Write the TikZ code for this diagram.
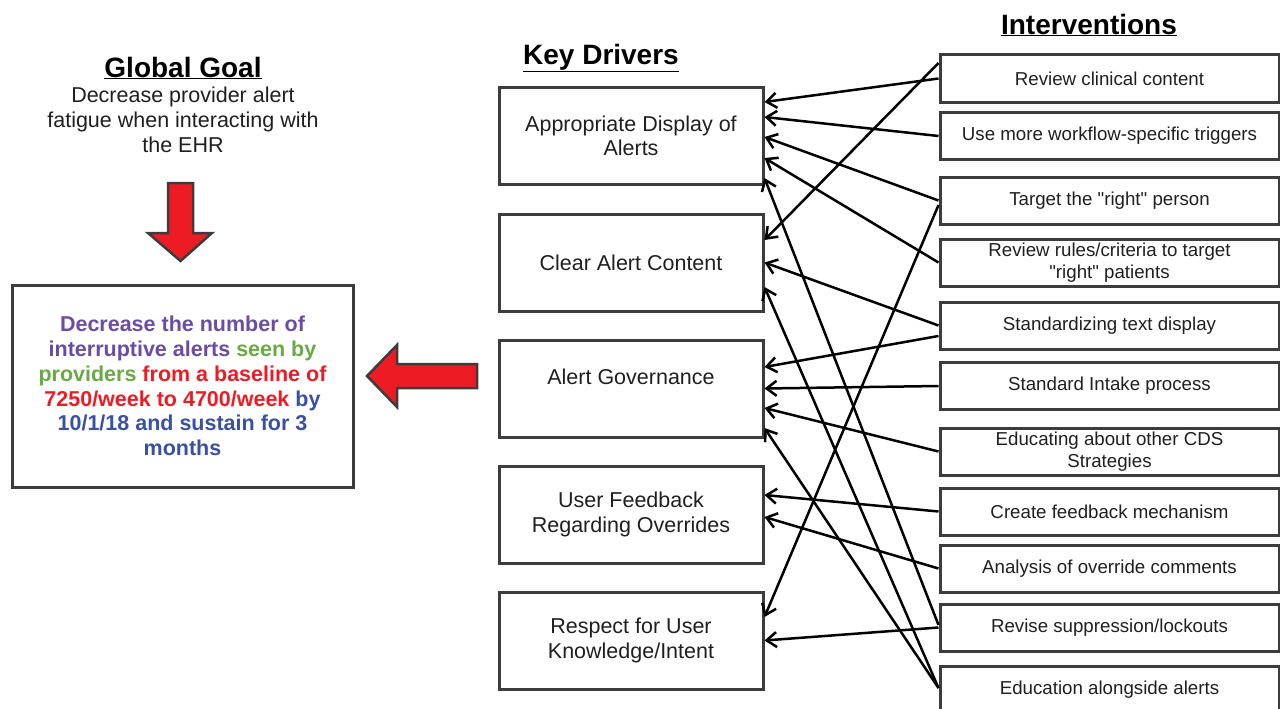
\documentclass[tikz,border=0pt]{standalone}
\usepackage{fontspec}
\setmainfont{Liberation Sans}
\newfontfamily\plainfont{Liberation Sans}
\newcommand{\dq}{{\plainfont\symbol{34}}}
\usetikzlibrary{arrows.meta}

\definecolor{goalpurple}{RGB}{107,76,165}
\definecolor{goalgreen}{RGB}{104,170,68}
\definecolor{goalred}{RGB}{237,28,36}
\definecolor{goalblue}{RGB}{58,80,165}
\definecolor{boxgray}{RGB}{60,60,60}

\begin{document}
\begin{tikzpicture}[
    x = 1pt, y = -1pt,
    header/.style = {font = \fontsize{28}{32}\selectfont\bfseries},
    driver/.style = {
      draw = boxgray, line width = 3pt, text = black!88,
      minimum width = 264pt, minimum height = 97pt, inner sep = 0pt,
      align = center, font = \fontsize{21.5}{24.5}\selectfont,
    },
    interv/.style = {
      draw = boxgray, line width = 3pt, text = black!88,
      minimum width = 339pt, minimum height = 47pt, inner sep = 0pt,
      align = center, font = \fontsize{18.7}{22}\selectfont,
    },
    bigarrow/.style = {fill = goalred, draw = boxgray, line width = 2.5pt},
  ]
        \useasboundingbox (0,0) rectangle (1280,709);

        % global goal
        \node[header] (gghead) at (183,68) {\underline{Global Goal}};
        \node[align = center, text = black!88, font = \fontsize{21.5}{25}\selectfont]
          (ggtext) at (183,120) {Decrease provider alert\\fatigue when interacting with\\the EHR};
        \draw[bigarrow] (168,183) -- (193,183) -- (193,233) -- (212,233)
          -- (180.5,261) -- (148,233) -- (168,233) -- cycle;

        \node[draw = boxgray, line width = 3pt, minimum width = 341pt, minimum height = 202pt,
          align = center, font = \fontsize{21.5}{24.7}\selectfont\bfseries] (goal) at (182.5,386)
          {\textcolor{goalpurple}{Decrease the number of}\\
           \textcolor{goalpurple}{interruptive alerts} \textcolor{goalgreen}{seen by}\\
           \textcolor{goalgreen}{providers} \textcolor{goalred}{from a baseline of}\\
           \textcolor{goalred}{7250/week to 4700/week} \textcolor{goalblue}{by}\\
           \textcolor{goalblue}{10/1/18 and sustain for 3}\\
           \textcolor{goalblue}{months}};
        \draw[bigarrow] (367,376) -- (397,345) -- (397,364) -- (477,364)
          -- (477,388) -- (397,388) -- (397,407) -- cycle;

        % key drivers
        \node[header] (kdhead) at (601,58) {\underline{Key Drivers}};
        \node[driver] (disp)  at (631,136)   {Appropriate Display of\\Alerts};
        \node[driver] (clear) at (631,262.5) {Clear Alert Content};
        \node[driver] (gov)   at (631,388.5) {Alert Governance\\~};
        \node[driver] (fb)    at (631,514.5) {User Feedback\\Regarding Overrides};
        \node[driver] (resp)  at (631,640.5) {Respect for User\\Knowledge/Intent};

        % interventions
        \node[header] (ivhead) at (1089,25) {\underline{Interventions}};
        \node[interv] (rc) at (1109.5,78.5)  {Review clinical content};
        \node[interv] (wf) at (1109.5,136)   {Use more workflow-specific triggers};
        \node[interv] (tp) at (1109.5,200.5) {Target the \dq right\dq{} person};
        \node[interv] (rr) at (1109.5,262.5) {Review rules/criteria to target\\\dq right\dq{} patients};
        \node[interv] (st) at (1109.5,325.5) {Standardizing text display};
        \node[interv] (si) at (1109.5,386)   {Standard Intake process};
        \node[interv] (ec) at (1109.5,451.5) {Educating about other CDS\\Strategies};
        \node[interv] (cf) at (1109.5,511.5) {Create feedback mechanism};
        \node[interv] (ao) at (1109.5,568.5) {Analysis of override comments};
        \node[interv] (rs) at (1109.5,627.5) {Revise suppression/lockouts};
        \node[interv] (ea) at (1109.5,690)   {Education alongside alerts};

        \begin{scope}[line width = 2.5pt, {Straight Barb[length=10pt, width=15pt]}-]
          \draw ([yshift= 34pt]disp.east) -- (rc.west);
          \draw ([yshift= 19pt]disp.east) -- (wf.west);
          \draw ([yshift= -1pt]disp.east) -- (tp.west);
          \draw ([yshift=-22pt]disp.east) -- (rr.west);
          \draw ([yshift=-42pt]disp.east) -- ([yshift=2.5pt]rs.west);

          \draw ([yshift= 22.5pt]clear.east) -- ([yshift=15.5pt]rc.west);
          \draw (clear.east) -- (st.west);
          \draw ([yshift=-24.5pt]clear.east) -- ([yshift=2pt]ea.west);

          \draw ([yshift= 21.5pt]gov.east) -- ([yshift=-10.5pt]st.west);
          \draw (gov.east) -- (si.west);
          \draw ([yshift=-19.5pt]gov.east) -- (ec.west);
          \draw ([yshift=-39.5pt]gov.east) -- ([yshift=2pt]ea.west);

          \draw ([yshift= 19.5pt]fb.east) -- (cf.west);
          \draw ([yshift= -2.5pt]fb.east) -- (ao.west);

          \draw ([yshift= 23.5pt]resp.east) -- ([yshift=-4.5pt]tp.west);
          \draw (resp.east) -- (rs.west);
        \end{scope}
      \end{tikzpicture}
\end{document}
